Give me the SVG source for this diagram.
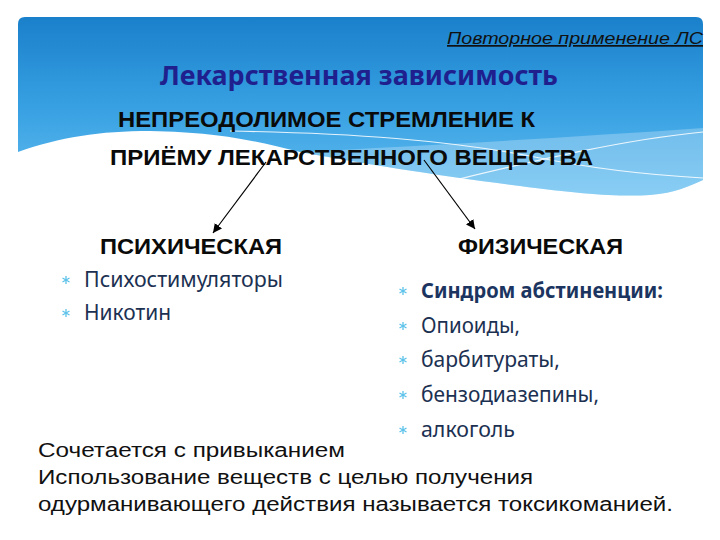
<svg xmlns="http://www.w3.org/2000/svg" width="720" height="540" viewBox="0 0 720 540">
  <style>
    .hdr { font-family: "Liberation Sans", Arial, sans-serif; font-style: italic; font-size: 17px; fill: #111; text-decoration: underline; }
    .title { font-family: "Noto Sans", "Open Sans", sans-serif; font-weight: bold; font-size: 26px; fill: #1f1f8e; }
    .caps { font-family: "Liberation Sans", Arial, sans-serif; font-weight: bold; font-size: 22px; fill: #0a0a0a; }
    .item { font-family: "Noto Sans", "Open Sans", sans-serif; font-size: 21px; fill: #1c3152; }
    .itemb { font-family: "Noto Sans", "Open Sans", sans-serif; font-size: 21px; font-weight: bold; fill: #1c3560; }
    .foot { font-family: "Liberation Sans", Arial, sans-serif; font-size: 20px; fill: #111; }
    .conn { stroke: #000; stroke-width: 1.2; fill: none; }
    .wline { stroke: #ffffff; stroke-width: 1.2; fill: none; opacity: 0.85; }
  </style>
  <defs>
    <linearGradient id="sky" x1="0" y1="0" x2="0" y2="1">
      <stop offset="0" stop-color="#1a80cb"/>
      <stop offset="0.5" stop-color="#37a0e2"/>
      <stop offset="1" stop-color="#62bdf0"/>
    </linearGradient>
    <marker id="arr" viewBox="0 0 10 10" refX="10" refY="5" markerWidth="9" markerHeight="9" markerUnits="userSpaceOnUse" orient="auto">
      <path d="M0,0 L10,5 L0,10 z" fill="#000"/>
    </marker>
    <g id="bul">
      <g stroke="#5cc2ea" stroke-width="1.3">
        <line x1="0" y1="-4" x2="0" y2="4"/>
        <line x1="-3.5" y1="-2" x2="3.5" y2="2"/>
        <line x1="-3.5" y1="2" x2="3.5" y2="-2"/>
      </g>
    </g>
  </defs>

  <rect width="720" height="540" fill="#ffffff"/>

  <g id="banner">
    <path d="M18,24 Q18,17 25,17 H696 Q703,17 703,24 V180 C690,186 675,193 650,195 C620,197 580,194 520,186 C440,176 360,163 300,152 C260,142 220,132 150,131 C100,131 60,137 18,152 Z" fill="url(#sky)"/>
    <path d="M300,152 C420,146 560,138 703,128 V180 C690,186 675,193 650,195 C620,197 580,194 520,186 C440,176 360,163 300,152 Z" fill="#ffffff" opacity="0.25"/>
    <path class="wline" d="M230,131 C350,133 450,140 540,158 C600,170 650,175 703,178"/>
    <path class="wline" d="M703,132 C620,140 530,162 455,180"/>
  </g>

  <g id="header">
    <text class="hdr" x="703" y="44" text-anchor="end" textLength="256" lengthAdjust="spacingAndGlyphs">Повторное применение ЛС</text>
  </g>

  <g id="title">
    <text class="title" x="160" y="85" textLength="398" lengthAdjust="spacingAndGlyphs">Лекарственная зависимость</text>
  </g>

  <g id="root">
    <text class="caps" x="118" y="127" textLength="417" lengthAdjust="spacingAndGlyphs">НЕПРЕОДОЛИМОЕ СТРЕМЛЕНИЕ К</text>
    <text class="caps" x="110" y="165" textLength="483" lengthAdjust="spacingAndGlyphs">ПРИЁМУ ЛЕКАРСТВЕННОГО ВЕЩЕСТВА</text>
  </g>

  <g id="connectors">
    <line class="conn" x1="266" y1="162" x2="213" y2="233" marker-end="url(#arr)"/>
    <line class="conn" x1="424" y1="160" x2="475" y2="229" marker-end="url(#arr)"/>
  </g>

  <g id="psych">
    <text class="caps" x="100" y="254" textLength="182" lengthAdjust="spacingAndGlyphs">ПСИХИЧЕСКАЯ</text>
    <use href="#bul" x="66" y="280"/>
    <text class="item" x="84" y="287" textLength="199" lengthAdjust="spacingAndGlyphs">Психостимуляторы</text>
    <use href="#bul" x="66" y="313"/>
    <text class="item" x="84" y="320" textLength="87" lengthAdjust="spacingAndGlyphs">Никотин</text>
  </g>

  <g id="phys">
    <text class="caps" x="458" y="254" textLength="165" lengthAdjust="spacingAndGlyphs">ФИЗИЧЕСКАЯ</text>
    <use href="#bul" x="403" y="291"/>
    <text class="itemb" x="421" y="298" textLength="242" lengthAdjust="spacingAndGlyphs">Синдром абстиненции:</text>
    <use href="#bul" x="403" y="326"/>
    <text class="item" x="421" y="333" textLength="99" lengthAdjust="spacingAndGlyphs">Опиоиды,</text>
    <use href="#bul" x="403" y="360"/>
    <text class="item" x="421" y="367" textLength="139" lengthAdjust="spacingAndGlyphs">барбитураты,</text>
    <use href="#bul" x="403" y="395"/>
    <text class="item" x="421" y="402" textLength="178" lengthAdjust="spacingAndGlyphs">бензодиазепины,</text>
    <use href="#bul" x="403" y="430"/>
    <text class="item" x="421" y="437" textLength="94" lengthAdjust="spacingAndGlyphs">алкоголь</text>
  </g>

  <g id="footer">
    <text class="foot" x="38" y="457" textLength="307" lengthAdjust="spacingAndGlyphs">Сочетается с привыканием</text>
    <text class="foot" x="38" y="484" textLength="495" lengthAdjust="spacingAndGlyphs">Использование веществ с целью получения</text>
    <text class="foot" x="38" y="511" textLength="635" lengthAdjust="spacingAndGlyphs">одурманивающего действия называется токсикоманией.</text>
  </g>
</svg>
